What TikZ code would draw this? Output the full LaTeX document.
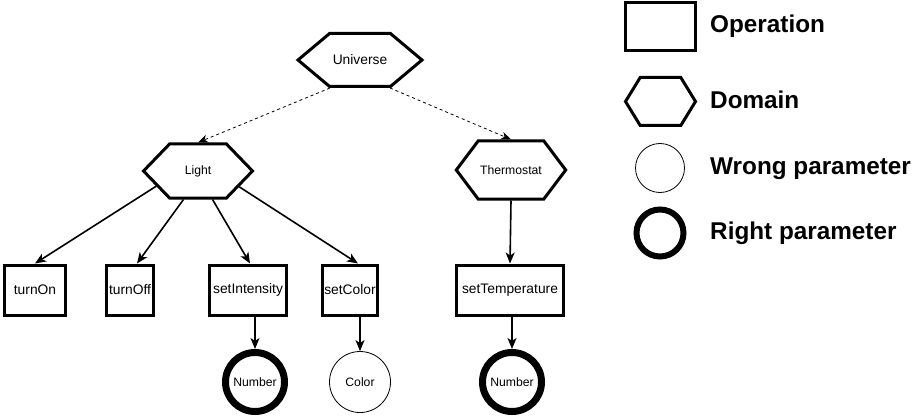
\documentclass[tikz,border=0pt]{standalone}
\usepackage{fontspec}
\setmainfont{Liberation Sans}
\usetikzlibrary{positioning}
\usetikzlibrary{calc}
\usetikzlibrary{arrows.meta}
\usetikzlibrary{shapes.symbols}

\begin{document}
\begin{tikzpicture}[x=1pt, y=-1pt,
        op/.style={rectangle, draw=black, line width=3pt, fill=white, minimum height=50pt, inner sep=2pt, font=\fontsize{13.8}{16}\selectfont},
        dom/.style={signal, signal to=west and east, draw=black, line width=3pt, fill=white, inner sep=2pt, font=\fontsize{12.2}{14}\selectfont},
        wrongpar/.style={circle, draw=black, line width=0.8pt, fill=white, inner sep=0pt, font=\fontsize{12.2}{14}\selectfont},
        rightpar/.style={circle, draw=black, line width=7pt, fill=white, inner sep=0pt, font=\fontsize{12.2}{14}\selectfont},
        link/.style={-{Stealth[length=11pt, width=9pt, inset=3pt]}, line width=1.6pt},
        dlink/.style={-{Stealth[length=10pt, width=8pt, inset=3pt]}, line width=0.8pt, dash pattern=on 3pt off 3pt},
        legtext/.style={anchor=base west, inner sep=0pt, font=\fontsize{24.3}{28}\selectfont\bfseries},
        ]
            \useasboundingbox (0,0) rectangle (918,417);

            % domains
            \node[dom, minimum width=124pt, minimum height=53pt, signal pointer angle=80, font=\fontsize{13.8}{16}\selectfont] (Universe) at (360,60) {Universe};
            \node[dom, minimum width=109pt, minimum height=54pt, signal pointer angle=92] (Light) at (198,171) {Light};
            \node[dom, minimum width=108pt, minimum height=58pt, signal pointer angle=106] (Thermostat) at (511,170) {Thermostat};

            % operations
            \node[op, minimum width=61pt] (turnOn) at (35,290) {turnOn};
            \node[op, minimum width=47pt] (turnOff) at (130,290) {turnOff};
            \node[op, minimum width=77pt] (setIntensity) at (248,290) {setIntensity};
            \node[op, minimum width=47pt] (setColor) at (350,290) {setColor};
            \node[op, minimum width=107pt] (setTemperature) at (510,290) {setTemperature};

            % parameters
            \node[rightpar, minimum size=59pt] (NumberA) at (255,382) {Number};
            \node[wrongpar, minimum size=61pt] (Color) at (360,382) {Color};
            \node[rightpar, minimum size=59pt] (NumberB) at (512,382) {Number};

            % connectors
            \draw[dlink] ([xshift=-30pt]Universe.south) -- (Light.north);
            \draw[dlink] ([xshift=30pt]Universe.south) -- (Thermostat.north);
            \draw[link] (Light.200) -- (turnOn.north);
            \draw[link] (Light.243) -- ([xshift=7pt]turnOff.north);
            \draw[link] (Light.297) -- ([xshift=2pt]setIntensity.north);
            \draw[link] (Light.339) -- ([xshift=8pt]setColor.north);
            \draw[link] (Thermostat.south) -- (setTemperature.north);
            \draw[link] (NumberA.north |- setIntensity.south) -- (NumberA.north);
            \draw[link] (Color.north |- setColor.south) -- (Color.north);
            \draw[link] (NumberB.north |- setTemperature.south) -- (NumberB.north);

            % legend
            \node[op, minimum width=70pt, minimum height=48pt] (legOp) at (660.5,26.5) {};
            \node[dom, minimum width=70pt, minimum height=48pt, signal pointer angle=117] (legDom) at (660.5,101.5) {};
            \node[wrongpar, minimum size=49pt] (legWrong) at (660,168) {};
            \node[rightpar, line width=6pt, minimum size=47pt] (legRight) at (660,233) {};
            \node[legtext] (txtOp) at (710,33) {Operation};
            \node[legtext] (txtDom) at (710,109) {Domain};
            \node[legtext] (txtWrong) at (710,175) {Wrong parameter};
            \node[legtext] (txtRight) at (710,239) {Right parameter};
        \end{tikzpicture}
\end{document}
